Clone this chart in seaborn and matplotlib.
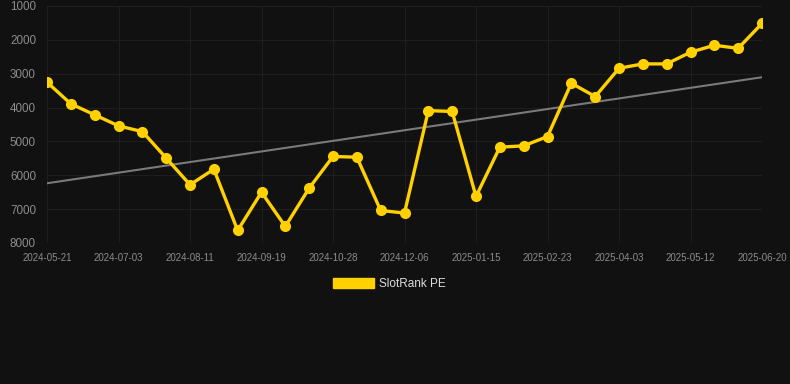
import numpy as np
import pandas as pd
import matplotlib
matplotlib.use("Agg")
import matplotlib.pyplot as plt
import seaborn as sns
from matplotlib.patches import Patch

# ---- data ----
tick_labels = ["2024-05-21", "2024-07-03", "2024-08-11", "2024-09-19", "2024-10-28",
               "2024-12-06", "2025-01-15", "2025-02-23", "2025-04-03", "2025-05-12",
               "2025-06-20"]
rank_values = [3250, 3890, 4215, 4540, 4710, 5490, 6280, 5820, 7630, 6500,
               7510, 6380, 5445, 5465, 7040, 7115, 4090, 4115, 6625, 5170,
               5130, 4855, 3280, 3675, 2840, 2710, 2710, 2365, 2160, 2250, 1515]
series_name = "SlotRank PE"

bg = "#111111"
yellow = "#FFD100"
grid_c = "#1f1f1f"
text_c = "#8c8c8c"

sns.set_theme(style="dark")
plt.rcParams['font.family'] = ['Liberation Sans', 'DejaVu Sans']

df = pd.DataFrame({"idx": np.arange(len(rank_values)), "rank": rank_values})

fig = plt.figure(figsize=(7.9, 3.84), dpi=100, facecolor=bg)
ax = fig.add_axes([47/790, 1 - 243/384, (762-47)/790, (243-6)/384])
ax.set_facecolor(bg)

# trend line
coef = np.polyfit(df["idx"], df["rank"], 1)
df["trend"] = np.polyval(coef, df["idx"])
sns.lineplot(data=df, x="idx", y="trend", ax=ax, color="#7a7a7a", linewidth=1.5, zorder=2)

sns.lineplot(data=df, x="idx", y="rank", ax=ax, color=yellow, linewidth=2.4,
             marker="o", markersize=8, markeredgewidth=0, zorder=3)

ax.set_ylim(8000, 1000)
ax.set_xlim(0, len(rank_values) - 1)
ax.set_yticks([1000, 2000, 3000, 4000, 5000, 6000, 7000, 8000])
ax.set_xticks(np.arange(0, len(rank_values), 3))
ax.set_xticklabels(tick_labels)
ax.tick_params(axis="y", colors=text_c, labelsize=8.4, length=0, pad=8)
ax.tick_params(axis="x", colors=text_c, labelsize=7, length=0, pad=7)
ax.grid(True, color=grid_c, linewidth=0.7)
ax.set_xlabel("")
ax.set_ylabel("")
for s in ax.spines.values():
    s.set_visible(False)

# legend
handle = Patch(facecolor=yellow, edgecolor=yellow, label=series_name)
fig.legend(handles=[handle], loc="center", bbox_to_anchor=(389/790, 1 - 284/384),
           frameon=False, fontsize=8.5, labelcolor="#dddddd",
           handlelength=3.5, handleheight=0.95, handletextpad=0.4)

fig.savefig("out.png", dpi=100, facecolor=bg)
